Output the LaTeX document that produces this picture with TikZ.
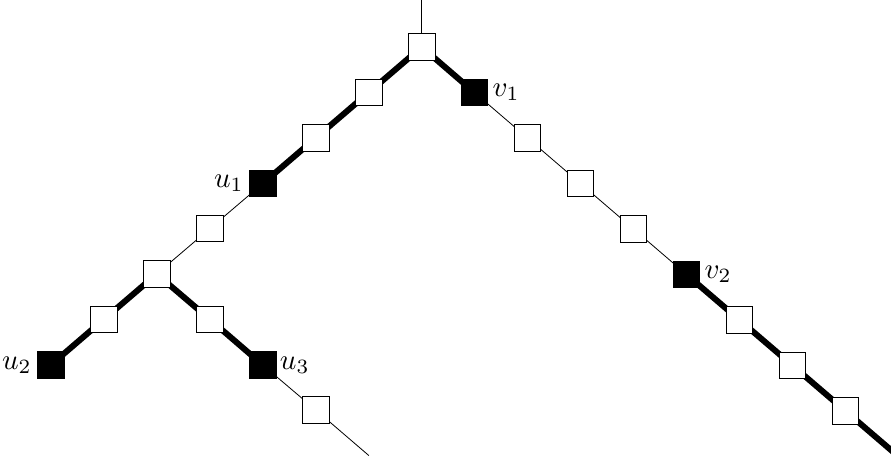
\documentclass[tikz,border=0pt]{standalone}
\usetikzlibrary{backgrounds}
\begin{document}
\begin{tikzpicture}[x=1pt,y=-1pt,
  sq/.style={draw, line width=0.8pt, minimum size=26.5pt, inner sep=0pt, fill=white},
  bsq/.style={sq, fill=black},
  thinedge/.style={line width=0.8pt},
  thickedge/.style={line width=6pt},
  lbl/.style={inner sep=1pt, scale=2.9}]
\useasboundingbox (0,0) rectangle (891,460);
% nodes
\node[sq] (r) at (421.7,47) {};
\node[sq] (a1) at (368.7,92.5) {};
\node[sq] (a2) at (315.7,138) {};
\node[bsq] (u1) at (262.8,183.5) {};
\node[sq] (a3) at (210,228.5) {};
\node[sq] (b) at (156.7,274) {};
\node[sq] (a4) at (103.7,319.5) {};
\node[bsq] (u2) at (50.8,365) {};
\node[sq] (c1) at (210,319.5) {};
\node[bsq] (u3) at (262.8,365) {};
\node[sq] (c2) at (315.8,410) {};
\coordinate (cend) at (368.8,455.5);
\node[bsq] (v1) at (474.5,92.5) {};
\node[sq] (d1) at (527.5,138) {};
\node[sq] (d2) at (580.5,183.5) {};
\node[sq] (d3) at (633.5,229) {};
\node[bsq] (v2) at (686.5,274.5) {};
\node[sq] (d4) at (739.5,320) {};
\node[sq] (d5) at (792.5,365.5) {};
\node[sq] (d6) at (845.5,411) {};
\coordinate (dend) at (898.5,456.5);
\coordinate (top) at (421.7,-2);
% labels
\node[lbl, anchor=west] (lv1) at ([xshift=1pt]v1.east) {$v_1$};
\node[lbl, anchor=west] (lv2) at ([xshift=1pt]v2.east) {$v_2$};
\node[lbl, anchor=west] (lu3) at ([xshift=0pt]u3.east) {$u_3$};
\node[lbl, anchor=east] (lu1) at ([xshift=-2pt]u1.west) {$u_1$};
\node[lbl, anchor=east] (lu2) at ([xshift=-2pt]u2.west) {$u_2$};
% edges
\begin{scope}[on background layer]
\draw[thickedge] (r.center) -- (a1.center) -- (a2.center) -- (u1.center);
\draw[thickedge] (b.center) -- (a4.center) -- (u2.center);
\draw[thickedge] (b.center) -- (c1.center) -- (u3.center);
\draw[thickedge] (r.center) -- (v1.center);
\draw[thickedge] (v2.center) -- (d4.center) -- (d5.center) -- (d6.center) -- (dend);
\draw[thinedge] (top) -- (r.center);
\draw[thinedge] (u1.center) -- (a3.center) -- (b.center);
\draw[thinedge] (u3.center) -- (c2.center) -- (cend);
\draw[thinedge] (v1.center) -- (d1.center) -- (d2.center) -- (d3.center) -- (v2.center);
\end{scope}
\end{tikzpicture}
\end{document}
